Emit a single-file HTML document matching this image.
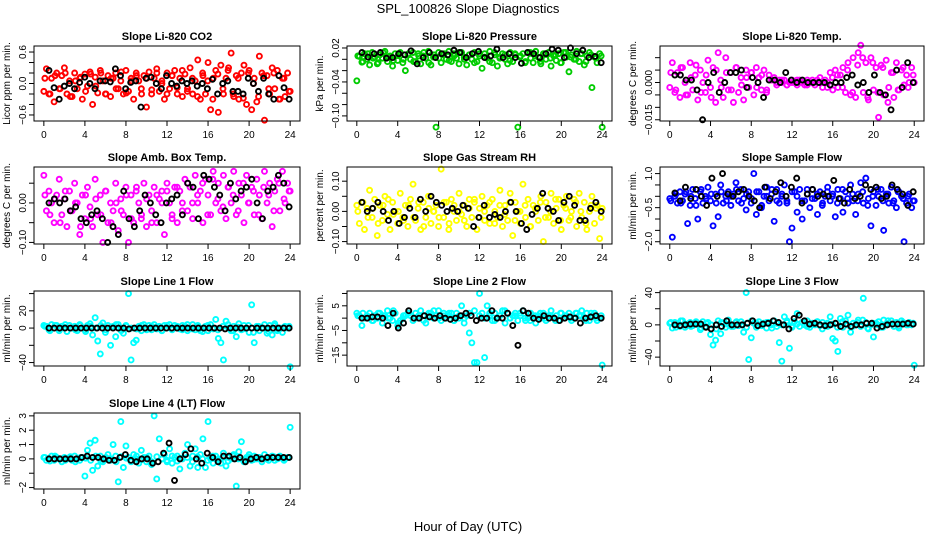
<!DOCTYPE html>
<html><head><meta charset="utf-8"><style>
html,body{margin:0;padding:0;background:#fff;}
svg{display:block;font-family:"Liberation Sans",sans-serif;}
</style></head><body>
<svg id="chart" width="936" height="540" viewBox="0 0 936 540">
<rect x="0" y="0" width="936" height="540" fill="#fff"/>
<text x="468" y="13" text-anchor="middle" font-size="13">SPL_100826  Slope Diagnostics</text>
<text x="468" y="531" text-anchor="middle" font-size="13">Hour of Day (UTC)</text>
</svg>
<script>
const xTicks = [0,4,8,12,16,20,24];
const co2Col = [-0.15,0.28,-0.2,0.1,-0.35,0.2,-0.1,0.15,0.3,-0.2,0.05,-0.25,0.2,-0.1,0.1,-0.3,0.18,-0.05,0.22,-0.4,0.12,-0.18,0.25,0.05,-0.2,0.15,-0.25,0.1,0.2,-0.1,0.05,-0.2,0.25,-0.15,0.1,-0.3,0.2,0.05,-0.1,0.15,-0.45,0.22,-0.2,0.1,0.28,-0.15,0.05,-0.3,0.2,-0.1,0.15,0.25,-0.2,0.1,-0.25,0.18,-0.1,0.3,-0.2,0.05,0.45,-0.3,0.15,-0.2,0.4,-0.5,0.1,0.25,-0.55,0.35,-0.2,0.1,0.3,0.58,-0.25,0.15,-0.3,0.2,0.35,-0.4,0.25,-0.5,0.1,-0.35,0.52,0.2,-0.7,0.15,-0.2,0.3,-0.1,0.25,-0.3,0.1,-0.25,0.2,-0.15];
const co2Col2 = [0.1,-0.2,0.15,-0.1,0.2,-0.25,0.05,0.12,-0.15,0.18,-0.05,0.2,-0.2,0.1,-0.1,0.22,-0.18,0.05,0.15,-0.2,0.1,-0.12,0.2,0.0,-0.2,0.15,-0.08,0.25,-0.15,0.1,-0.25,0.2,0.05,-0.3,0.18,-0.1,0.25,-0.2,0.1,-0.28,0.2,0.0,-0.25,0.15,-0.1,0.2,-0.3,0.1,-0.15];
const co2Blk = [0.25,-0.08,-0.3,-0.05,0.0,-0.1,0.02,0.12,0.0,-0.1,0.05,0.05,0.03,0.28,0.15,-0.1,0.02,0.05,-0.45,0.1,0.12,0.0,-0.1,0.15,0.0,-0.05,0.05,0.0,0.05,-0.05,0.0,-0.1,0.08,-0.2,0.0,0.05,-0.15,-0.15,-0.2,0.1,0.0,-0.15,0.1,-0.2,-0.3,0.15,-0.08,-0.3];
const presCol = [-0.038,0.005,-0.005,0.01,0.0,-0.01,0.012,0.004,-0.008,0.008,0.002,0.014,-0.004,0.006,-0.012,0.01,-0.002,0.012,-0.006,-0.02,0.008,0.0,0.012,-0.004,0.01,-0.008,0.006,0.002,0.014,-0.01,0.004,-0.12,0.012,-0.006,0.008,0.0,0.014,-0.004,0.01,0.002,-0.008,0.012,0.004,-0.01,0.008,0.0,0.012,-0.004,0.006,-0.016,0.01,0.002,0.014,-0.006,0.008,-0.012,0.004,0.01,0.0,-0.008,0.012,-0.004,0.008,-0.12,0.006,0.01,-0.004,0.012,0.002,-0.006,0.014,0.004,-0.008,0.01,0.0,0.012,-0.012,0.006,-0.002,0.01,-0.006,0.012,0.004,-0.022,0.008,0.0,0.014,-0.004,0.01,-0.01,0.006,0.012,-0.05,0.004,-0.006,0.01,-0.12];
const presCol2 = [0.006,-0.004,0.01,0.002,-0.006,0.012,0.004,-0.002,0.008,0.0,0.01,-0.004,0.006,0.012,-0.006,0.008,0.002,0.01,-0.002,0.006,0.012,0.0,0.008,-0.006,0.01,0.004,-0.004,0.012,0.002,0.008,-0.002,0.01,0.004,-0.006,0.012,0.006,-0.004,0.01,0.002,0.008,-0.006,0.012,0.004,0.0,0.01,-0.004,0.008,0.002,0.006];
const presBlk = [0.012,0.004,0.01,0.012,0.002,0.003,0.01,0.008,0.015,-0.008,0.003,0.012,0.003,0.01,0.008,0.016,0.012,0.003,0.01,0.014,0.003,0.006,0.018,0.003,0.01,0.003,-0.007,0.012,0.01,0.003,0.01,0.018,0.016,0.003,0.02,0.01,0.016,0.003,0.005,-0.006];
const tempCol = [-0.002,0.008,-0.004,0.004,-0.006,0.006,0.0,-0.005,0.008,-0.003,0.003,-0.007,0.005,0.0,-0.004,0.009,-0.002,0.006,-0.008,0.012,0.001,-0.006,0.01,-0.003,0.004,-0.008,0.006,-0.004,0.002,-0.007,0.005,-0.002,0.004,-0.005,0.006,0.002,-0.003,0.005,-0.004,0.003,0.001,0.002,-0.001,0.001,0.0,0.001,-0.001,0.0,0.001,0.0,-0.001,0.001,0.0,-0.001,0.001,0.0,0.001,-0.001,0.0,0.002,-0.002,0.001,0.0,0.004,-0.003,0.005,-0.002,0.003,0.006,-0.004,0.008,-0.005,0.01,-0.006,0.012,0.015,-0.004,0.008,-0.007,0.01,-0.003,0.006,-0.014,0.007,-0.005,0.009,-0.002,0.004,-0.006,0.008,-0.003,0.005,-0.001,0.003,0.0,0.006,0.0];
const tempCol2 = [0.004,-0.003,0.006,-0.005,0.002,0.007,-0.004,0.003,-0.006,0.005,-0.002,0.004,-0.003,0.006,-0.001,0.002,0.004,-0.002,0.003,-0.003,0.001,0.0,0.001,-0.001,0.0,0.001,0.0,-0.001,0.0,0.001,0.0,-0.002,0.002,0.003,-0.002,0.005,-0.004,0.007,0.01,-0.006,0.008,-0.004,0.006,-0.008,0.004,-0.003,0.006,-0.002,0.003];
const tempBlk = [0.003,0.003,0.001,0.001,-0.003,-0.015,0.0,0.004,-0.004,0.0,0.004,0.004,0.005,-0.002,0.002,0.0,-0.006,0.001,0.001,0.0,0.004,0.001,0.0,0.001,0.0,0.0,0.0,0.0,-0.001,0.0,0.0,0.002,0.003,-0.001,0.0,-0.004,0.003,-0.004,-0.005,-0.011,0.005,-0.002,0.008,0.0];
const ambCol = [0.07,-0.02,0.03,0.0,-0.05,0.02,0.06,-0.03,0.01,-0.06,0.03,-0.02,0.05,0.0,-0.08,0.02,-0.04,0.04,-0.01,-0.06,0.06,-0.03,0.02,-0.1,0.03,-0.05,0.0,-0.02,0.05,-0.07,0.01,-0.03,0.04,-0.1,0.02,-0.05,0.03,0.0,-0.04,0.05,-0.06,0.02,-0.02,0.04,-0.05,0.01,0.03,-0.08,0.05,0.0,-0.03,0.04,-0.05,0.03,0.0,0.06,-0.02,0.04,-0.04,0.07,0.0,0.03,-0.05,0.06,0.02,-0.03,0.08,0.0,0.05,-0.02,0.07,-0.04,0.04,0.0,0.08,-0.03,0.05,0.02,-0.05,0.07,0.0,0.04,-0.03,0.06,0.02,-0.04,0.08,0.0,0.05,-0.06,0.03,0.06,-0.02,0.08,0.0,0.05,0.03];
const ambCol2 = [0.02,-0.03,0.01,-0.05,0.03,-0.02,0.0,-0.06,0.02,-0.04,0.01,-0.03,0.03,-0.05,0.0,-0.02,0.02,-0.04,0.04,-0.03,0.01,-0.05,0.02,0.0,0.03,-0.04,0.04,-0.02,0.05,0.0,0.02,0.05,-0.03,0.06,0.01,-0.01,0.04,0.02,-0.02,0.05,0.0,0.03,-0.03,0.04,0.02,-0.02,0.05,0.01,0.03];
const ambBlk = [0.0,0.01,0.0,0.01,-0.02,-0.01,-0.04,-0.05,-0.03,-0.02,-0.04,-0.1,-0.06,-0.08,0.03,-0.04,-0.06,-0.02,0.02,0.0,-0.03,-0.05,0.0,0.01,0.02,-0.03,0.05,0.04,-0.04,0.07,0.06,0.04,0.02,-0.02,0.05,0.01,0.03,0.04,0.06,0.0,-0.04,0.03,0.04,0.07,0.05,-0.01];
const rhCol = [0.02,-0.04,0.03,-0.06,0.01,0.07,-0.02,0.04,-0.08,0.02,-0.03,0.05,-0.01,-0.06,0.03,0.0,-0.04,0.06,-0.02,0.02,-0.05,0.04,0.09,-0.03,0.01,-0.06,0.03,-0.02,0.05,-0.04,0.0,0.02,-0.05,0.14,-0.02,0.03,-0.06,0.04,0.0,-0.03,0.06,-0.01,0.02,-0.05,0.04,-0.02,0.03,-0.06,0.01,0.05,-0.03,0.02,-0.04,0.04,0.0,-0.02,0.07,-0.05,0.02,-0.03,0.06,-0.08,0.03,0.0,-0.04,0.09,-0.02,0.04,-0.05,0.02,0.0,-0.03,0.05,-0.1,0.03,-0.02,0.06,-0.04,0.01,0.04,-0.06,0.02,0.05,-0.03,0.0,0.04,-0.05,0.06,-0.02,0.03,-0.06,0.0,0.05,-0.04,0.02,-0.09,0.01];
const rhCol2 = [0.0,0.03,-0.02,0.01,-0.04,0.02,0.04,-0.01,0.0,-0.03,0.02,-0.02,0.03,-0.05,0.01,0.0,-0.02,0.03,-0.04,0.02,0.0,-0.03,0.01,0.04,-0.02,0.0,0.03,-0.04,0.02,-0.01,0.03,-0.03,0.0,0.02,-0.05,0.01,0.03,-0.02,0.0,0.04,-0.03,0.01,-0.02,0.03,0.0,-0.04,0.02,0.01,-0.02];
const rhBlk = [0.03,0.0,0.01,0.03,0.0,-0.03,0.0,-0.04,-0.02,0.01,-0.02,0.04,0.0,0.05,0.03,0.02,0.0,0.01,0.0,0.02,0.01,-0.05,-0.02,0.02,-0.02,-0.01,-0.02,0.0,0.03,0.0,-0.04,-0.06,-0.01,0.01,0.06,0.01,0.0,-0.03,0.03,0.05,0.02,-0.03,-0.03,0.01,0.03,0.0];
const sfCol = [-0.1,-1.8,0.0,-0.3,0.2,-0.2,0.1,-1.2,-0.4,0.3,-0.1,-1.0,0.2,-0.3,0.0,0.4,-0.2,-1.3,0.1,-0.9,0.5,-0.3,0.0,0.2,-0.4,0.1,0.6,-0.2,0.3,-0.1,-0.6,0.2,-0.3,1.0,-0.8,0.2,-0.5,0.0,0.4,-0.2,0.1,-1.1,0.3,-0.3,0.0,0.5,-0.2,-2.0,-1.4,0.2,-0.7,0.3,-1.0,-0.2,0.1,-0.5,0.3,-0.1,-0.8,0.2,-0.3,0.0,0.4,-0.2,0.1,-0.9,0.3,-0.1,-0.7,0.2,-0.3,0.5,-0.2,-0.8,0.1,0.6,-0.3,0.8,-0.1,-1.3,0.2,-0.4,0.0,0.3,-1.5,0.1,-0.3,0.4,-0.2,-0.5,0.2,0.0,-2.0,-0.3,0.1,-0.5,-0.2];
const sfCol2 = [-0.2,0.1,-0.3,0.2,0.0,-0.4,0.3,-0.1,0.1,-0.3,0.2,-0.2,0.0,0.3,-0.3,0.1,-0.1,0.2,-0.4,0.0,0.3,-0.2,0.1,-0.3,0.2,0.0,-0.2,0.3,-0.1,0.1,-0.4,0.2,0.0,-0.3,0.3,-0.1,0.1,-0.2,0.2,-0.4,0.0,0.3,-0.2,0.1,-0.3,0.2,-0.1,0.0,-0.2];
const sfBlk = [0.15,-0.2,0.4,-0.1,0.3,0.0,-0.4,0.8,0.0,1.0,0.1,0.0,0.2,0.3,0.0,-0.2,-0.5,0.4,-0.1,0.2,0.6,0.0,0.4,0.8,-0.3,0.1,0.3,0.0,0.1,0.0,0.7,-0.1,-0.3,0.3,-0.1,0.0,0.5,0.3,0.4,-0.1,0.0,0.5,0.3,0.1,-0.4,0.2];
const l1Col = [3,2,-2,4,0,3,-3,2,1,-4,3,0,2,-3,4,0,-2,3,5,-8,12,-15,-30,6,-5,3,-20,2,-10,4,0,-6,3,40,-37,-17,-14,2,-3,4,0,3,-2,4,-1,2,-3,3,0,4,-2,3,0,-1,3,2,-3,0,4,-2,3,-3,0,2,-3,4,-1,10,-12,-17,-37,8,0,-3,2,-10,5,-2,3,0,-5,27,-17,2,-3,0,4,-6,3,-8,5,-3,0,-5,2,0,-45];
const l1Col2 = [2,-3,3,-1,4,0,-2,3,-4,2,0,3,-2,1,4,-3,2,0,-1,3,-2,2,1,-3,3,0,2,-2,4,-1,1,-4,3,0,-2,2,4,-3,1,-1,3,-5,2,0,-4,3,-2,1,2];
const l1Blk = [0,0,0,0,0,0,0,0,0,0,0,0,0,0,0,-1,0,0,0,0,0,0,0,0,0,0,0,0,0,0,0,0,0,-1,0,0,0,0,0,0,0,0,0,0,0,0];
const l2Col = [2,1,-3,0,1,2,-1,1,0,2,-2,1,3,0,-1,2,-3,-1,0,1,2,1,-1,2,0,3,1,-2,1,2,0,1,3,-1,2,0,1,2,-1,2,0,5,-2,1,-6,-10,-18,-18,10,2,-16,5,1,-1,2,0,1,3,-2,2,0,1,2,-1,1,3,-1,0,2,1,-2,1,0,2,-1,1,3,0,1,-1,2,0,1,2,-1,0,2,1,3,0,2,-1,1,2,-1,0,-19];
const l2Col2 = [1,2,0,-1,2,1,0,3,-2,1,2,0,1,-1,2,3,0,1,2,-1,1,0,2,3,1,0,2,-1,1,3,0,1,2,0,-1,1,2,0,1,-1,2,1,0,2,1,-1,2,0,1];
const l2Blk = [0,0,0.5,0.5,0,-3,2,-4,-2,3,0,0,1,0.5,0,1,0,-0.5,0,1,2,1,-1,0,0,3,0,0,2,-3,-11,3,2,0,-0.5,1,0,0,-1,0,0.5,0,-2,0,0.5,1,0];
const l3Col = [2,-4,3,0,-2,5,-3,1,3,-1,2,0,-6,4,-2,3,-12,-25,-19,5,-11,2,-3,6,0,-2,3,-1,4,-9,40,-43,-16,2,-3,4,0,2,-4,3,0,5,-2,-22,-45,10,3,-29,-1,4,14,-2,3,0,5,-3,2,0,4,-1,3,0,-2,10,-17,-20,-33,8,-3,5,12,-9,2,0,6,-2,33,3,-5,0,-15,2,4,-3,6,0,2,5,-2,3,-4,5,2,0,3,0,-50];
const l3Col2 = [3,-3,5,0,-2,4,-4,2,0,-5,3,1,-2,4,0,-3,5,2,-1,3,-4,2,0,5,-3,1,3,-2,0,4,-5,2,1,-3,4,0,-2,3,6,-4,2,0,-3,5,1,-2,3,0,2];
const l3Blk = [0,-1,0,1,1,1,-3,-5,0,-2,5,0,0,0,2,5,-1,1,2,5,3,0,-5,8,12,5,1,2,0,-1,0,2,-2,1,-2,0,0,2,2,-4,-2,0,1,1,1,2,1];
const l4Col = [0.1,-0.1,0.0,0.2,-0.1,0.1,0.0,-0.2,0.1,0.0,0.1,-0.1,0.2,0.0,-0.1,0.1,-1.2,0.6,1.1,-0.8,1.3,-0.5,0.2,-0.2,0.0,0.3,-0.1,1.0,0.2,-1.6,2.6,-0.6,0.9,0.1,-0.2,0.3,0.0,-0.3,0.6,0.1,-0.2,0.2,-0.4,3.0,-1.4,1.4,0.0,0.3,-0.2,0.7,-0.3,0.1,0.2,-0.7,0.0,0.4,1.0,-0.5,0.2,0.7,-0.6,0.3,1.4,-0.6,2.6,0.0,-0.3,0.2,0.0,-0.3,0.4,-0.5,0.1,0.0,0.3,-1.9,0.5,1.2,-0.2,0.1,0.3,-0.1,0.2,0.0,0.1,-0.2,0.3,0.0,0.1,0.2,-0.1,0.0,0.2,0.1,0.0,0.1,2.2];
const l4Col2 = [0.1,-0.15,0.2,0.0,-0.1,0.15,-0.2,0.1,0.05,-0.1,0.2,-0.15,0.1,0.0,-0.2,0.15,0.05,-0.1,0.2,-0.05,0.1,-0.2,0.15,0.0,-0.1,0.2,-0.15,0.05,0.1,-0.2,0.15,0.0,-0.1,0.2,-0.05,0.1,-0.15,0.2,0.0,-0.1,0.15,-0.05,0.1,0.0,-0.1,0.15,0.05,-0.1,0.1];
const l4Blk = [0,0,0,0,0,0,0.1,0.2,0.1,0.1,0,-0.1,-0.1,0.1,0.3,-0.1,-0.2,0,0,-0.3,-0.2,0.4,1.1,-1.5,0,0.3,0.7,0,-0.3,0.4,0.1,-0.2,0.2,0.2,0,0.1,-0.2,0,0.1,0,0.1,0.1,0.1,0.1,0.1];

const NS='http://www.w3.org/2000/svg';
const svg=document.getElementById('chart');
const cols=[[34,300],[347,612],[660,924]];
const rows=[[46,121],[167,244],[291,366],[413,489]];
const panels=[
 {name:'co2',title:'Slope Li-820 CO2',yl:'Licor ppm per min.',c:0,r:0,ymin:-0.715,ymax:0.715,ticks:[-0.6,-0.4,-0.2,0,0.2,0.4,0.6],labs:{'-0.6':'-0.6','0':'0.0','0.6':'0.6'},col:'#ff0000',a:co2Col,a2:co2Col2,b:co2Blk},
 {name:'pressure',title:'Slope Li-820 Pressure',yl:'kPa per min.',c:1,r:0,ymin:-0.109,ymax:0.0235,ticks:[-0.1,-0.08,-0.06,-0.04,-0.02,0,0.02],labs:{'-0.1':'-0.10','-0.04':'-0.04','0.02':'0.02'},col:'#00cc00',a:presCol,a2:presCol2,b:presBlk},
 {name:'li820-temp',title:'Slope Li-820 Temp.',yl:'degrees C per min.',c:2,r:0,ymin:-0.0155,ymax:0.0147,ticks:[-0.015,-0.01,-0.005,0,0.005,0.01],labs:{'-0.015':'-0.015','0':'0.000'},col:'#ff00ff',a:tempCol,a2:tempCol2,b:tempBlk},
 {name:'amb-box-temp',title:'Slope Amb. Box Temp.',yl:'degrees C per min.',c:0,r:1,ymin:-0.104,ymax:0.091,ticks:[-0.1,-0.05,0,0.05],labs:{'-0.1':'-0.10','0':'0.00'},col:'#ff00ff',a:ambCol,a2:ambCol2,b:ambBlk},
 {name:'gas-stream-rh',title:'Slope Gas Stream RH',yl:'percent per min.',c:1,r:1,ymin:-0.108,ymax:0.147,ticks:[-0.1,-0.05,0,0.05,0.1],labs:{'-0.1':'-0.10','0':'0.00','0.1':'0.10'},col:'#ffff00',a:rhCol,a2:rhCol2,b:rhBlk},
 {name:'sample-flow',title:'Slope Sample Flow',yl:'ml/min per min.',c:2,r:1,ymin:-2.1,ymax:1.29,ticks:[-2,-1.5,-1,-0.5,0,0.5,1],labs:{'-2':'-2.0','-0.5':'-0.5','1':'1.0'},col:'#0000ff',a:sfCol,a2:sfCol2,b:sfBlk},
 {name:'line1-flow',title:'Slope Line 1 Flow',yl:'ml/min per min.',c:0,r:2,ymin:-44,ymax:43,ticks:[-40,-20,0,20,40],labs:{'-40':'-40','0':'0','20':'20'},col:'#00ffff',a:l1Col,a2:l1Col2,b:l1Blk},
 {name:'line2-flow',title:'Slope Line 2 Flow',yl:'ml/min per min.',c:1,r:2,ymin:-19.4,ymax:11,ticks:[-15,-10,-5,0,5,10],labs:{'-15':'-15','-5':'-5','5':'5'},col:'#00ffff',a:l2Col,a2:l2Col2,b:l2Blk},
 {name:'line3-flow',title:'Slope Line 3 Flow',yl:'ml/min per min.',c:2,r:2,ymin:-51,ymax:42,ticks:[-40,-20,0,20,40],labs:{'-40':'-40','0':'0','40':'40'},col:'#00ffff',a:l3Col,a2:l3Col2,b:l3Blk},
 {name:'line4-flow',title:'Slope Line 4 (LT) Flow',yl:'ml/min per min.',c:0,r:3,ymin:-2.1,ymax:3.2,ticks:[-2,-1,0,1,2,3],labs:{'-2':'-2','0':'0','1':'1','2':'2','3':'3'},col:'#00ffff',a:l4Col,a2:l4Col2,b:l4Blk}
];
function mk(tag,attrs,parent){const e=document.createElementNS(NS,tag);for(const k in attrs)e.setAttribute(k,attrs[k]);(parent||svg).appendChild(e);return e;}
panels.forEach(p=>{
 const [L,R]=cols[p.c],[T,B]=rows[p.r];
 const g=mk('g',{});
 
 
 const xs=v=>L+(v+0.96)/25.92*(R-L);
 const ys=v=>B-(v-p.ymin)/(p.ymax-p.ymin)*(B-T);
 const t=mk('text',{x:(L+R)/2,y:T-6,'text-anchor':'middle','font-size':11,'font-weight':'bold'},g);t.textContent=p.title;
 
 
 const pts=mk('g',{fill:'none','stroke-width':1.9},g);
 
 
 p.a.forEach((v,i)=>{const c=mk('circle',{cx:xs(i*24/(p.a.length-1)),cy:ys(v),r:2.5,stroke:p.col},pts);
  
  });
 p.a2.forEach((v,i)=>{const c=mk('circle',{cx:xs(0.1+i*23.8/(p.a2.length-1)),cy:ys(v),r:2.5,stroke:p.col},pts);
  
  });
 p.b.forEach((v,i)=>{const c=mk('circle',{cx:xs(0.5+i*23.4/(p.b.length-1)),cy:ys(v),r:2.5,stroke:'#000'},pts);
  
  });
 const box=mk('rect',{x:L,y:T,width:R-L,height:B-T,fill:'none',stroke:'#000','stroke-width':1},g);
 
 
 const xa=mk('g',{},g);
 
 
 mk('line',{x1:xs(0),x2:xs(24),y1:B,y2:B,stroke:'#000'},xa);
 xTicks.forEach(v=>{mk('line',{x1:xs(v),x2:xs(v),y1:B,y2:B+5,stroke:'#000'},xa);
  const tl=mk('text',{x:xs(v),y:B+17,'text-anchor':'middle','font-size':10},xa);tl.textContent=v;});
 const ya=mk('g',{},g);
 
 
 mk('line',{x1:L,x2:L,y1:ys(p.ticks[0]),y2:ys(p.ticks[p.ticks.length-1]),stroke:'#000'},ya);
 p.ticks.forEach(v=>{mk('line',{x1:L-5,x2:L,y1:ys(v),y2:ys(v),stroke:'#000'},ya);
  const lab=p.labs[String(v)];
  if(lab){const tl=mk('text',{x:0,y:0,'text-anchor':'middle','font-size':10,transform:`translate(${L-8},${ys(v)}) rotate(-90)`},ya);tl.textContent=lab.replace('-','\u2212');}});
 const yt=mk('text',{x:0,y:0,'text-anchor':'middle','font-size':10,transform:`translate(${L-24},${(T+B)/2}) rotate(-90)`},g);yt.textContent=p.yl;
 
 
});
</script>
</body></html>
